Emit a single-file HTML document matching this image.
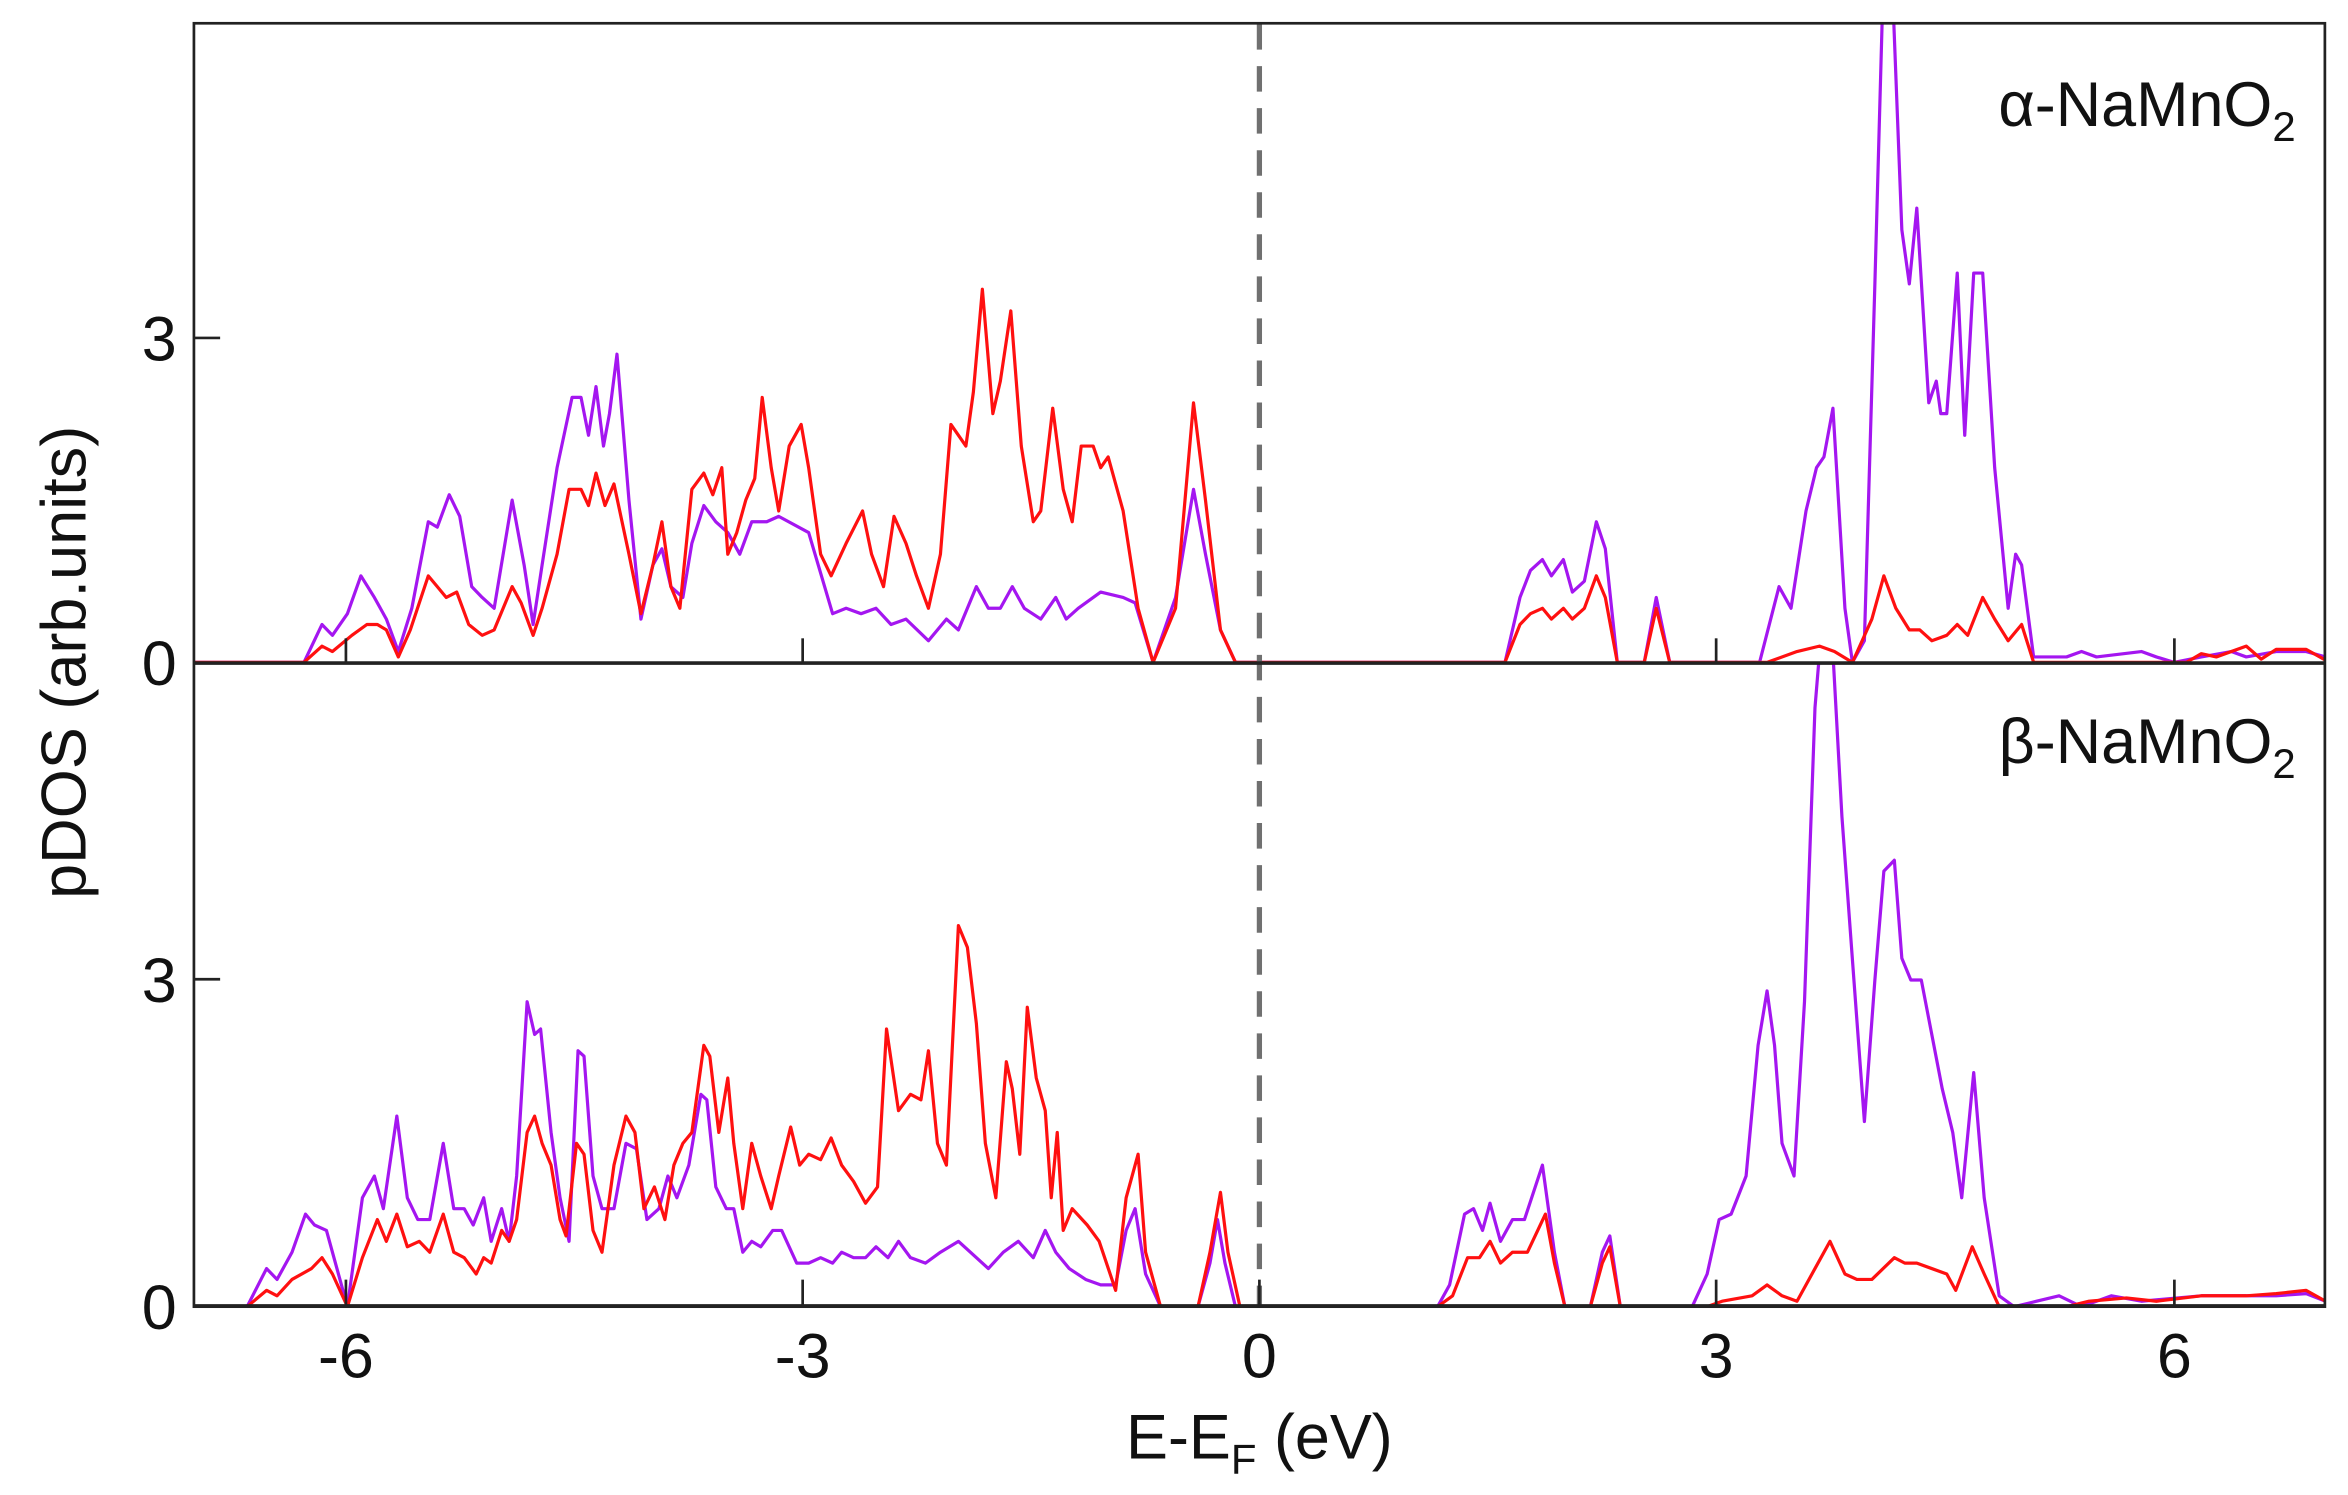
<!DOCTYPE html>
<html><head><meta charset="utf-8"><style>html,body{margin:0;padding:0;background:#fff}svg{display:block}</style></head>
<body>
<svg width="2348" height="1495" viewBox="0 0 1560.1 993.4" preserveAspectRatio="none" xmlns="http://www.w3.org/2000/svg" font-family="Liberation Sans, Arial, sans-serif">
<defs>
<clipPath id="ct"><rect x="129" y="16" width="1424" height="426"/></clipPath>
<clipPath id="cb"><rect x="129" y="442" width="1424" height="428"/></clipPath>
</defs>
<rect width="1560.1" height="993.4" fill="#fff"/>
<g transform="scale(0.995 0.998)">
<g clip-path="url(#ct)">
<g transform="translate(0,441) scale(1,-72)" fill="none" stroke-width="3.2" stroke-linejoin="round">
<polyline vector-effect="non-scaling-stroke" stroke="#a416f0" points="129,0 203,0 215,0.35 222,0.25 232,0.45 241,0.8 250,0.6 258,0.4 266,0.1 275,0.5 286,1.3 292,1.25 300,1.55 307,1.35 315,0.7 322,0.6 330,0.5 342,1.5 350,0.9 356,0.35 362,0.9 372,1.8 382,2.45 388,2.45 393,2.1 398,2.55 403,2.0 407,2.3 412,2.85 420,1.5 428,0.4 436,0.9 442,1.05 448,0.7 456,0.6 462,1.1 470,1.45 478,1.3 486,1.2 494,1.0 502,1.3 512,1.3 520,1.35 540,1.2 556,0.45 565,0.5 575,0.45 585,0.5 595,0.35 605,0.4 620,0.2 632,0.4 640,0.3 652,0.7 660,0.5 668,0.5 676,0.7 684,0.5 695,0.4 705,0.6 712,0.4 720,0.5 735,0.65 750,0.6 758,0.55 770,0 785,0.6 797,1.6 805,1.0 815,0.3 825,0 1005,0 1015,0.6 1022,0.85 1030,0.95 1036,0.8 1044,0.95 1050,0.65 1058,0.75 1066,1.3 1072,1.05 1080,0 1098,0 1106,0.6 1115,0 1175,0 1188,0.7 1196,0.5 1206,1.4 1213,1.8 1218,1.9 1224,2.35 1232,0.5 1237,0 1245,0.2 1252,3.5 1258,6.5 1263,6.5 1270,4.0 1275,3.5 1280,4.2 1288,2.4 1293,2.6 1296,2.3 1300,2.3 1307,3.6 1312,2.1 1318,3.6 1324,3.6 1332,1.8 1341,0.5 1346,1.0 1350,0.9 1358,0.05 1370,0.05 1380,0.05 1390,0.1 1400,0.05 1430,0.1 1440,0.05 1452,0 1470,0.05 1490,0.1 1500,0.05 1520,0.1 1540,0.1 1553,0.05"/>
<polyline vector-effect="non-scaling-stroke" stroke="#ff1010" points="129,0 203,0 215,0.15 222,0.1 235,0.25 245,0.35 252,0.35 258,0.3 266,0.05 274,0.3 286,0.8 292,0.7 298,0.6 305,0.65 313,0.35 322,0.25 330,0.3 342,0.7 348,0.55 356,0.25 362,0.5 372,1.0 380,1.6 388,1.6 393,1.45 398,1.75 404,1.45 410,1.65 420,1.0 428,0.45 436,0.9 442,1.3 448,0.7 454,0.5 462,1.6 470,1.75 476,1.55 482,1.8 486,1.0 492,1.2 498,1.5 504,1.7 509,2.45 515,1.8 520,1.4 527,2.0 535,2.2 540,1.8 548,1.0 555,0.8 565,1.1 576,1.4 582,1.0 590,0.7 597,1.35 605,1.1 612,0.8 620,0.5 628,1.0 635,2.2 645,2.0 650,2.5 656,3.45 663,2.3 668,2.6 675,3.25 682,2.0 690,1.3 695,1.4 703,2.35 710,1.6 716,1.3 722,2.0 730,2.0 735,1.8 740,1.9 750,1.4 760,0.5 770,0 785,0.5 797,2.4 805,1.5 815,0.3 825,0 1005,0 1015,0.35 1022,0.45 1030,0.5 1036,0.4 1044,0.5 1050,0.4 1058,0.5 1066,0.8 1072,0.6 1080,0 1098,0 1106,0.5 1115,0 1180,0 1200,0.1 1215,0.15 1225,0.1 1237,0 1250,0.4 1258,0.8 1266,0.5 1275,0.3 1282,0.3 1290,0.2 1300,0.25 1307,0.35 1314,0.25 1324,0.6 1332,0.4 1341,0.2 1350,0.35 1358,0 1460,0 1470,0.08 1480,0.05 1500,0.15 1510,0.03 1520,0.12 1540,0.12 1553,0.02"/>
</g></g>
<g clip-path="url(#cb)">
<g transform="translate(0,870) scale(1,-72.5)" fill="none" stroke-width="3.2" stroke-linejoin="round">
<polyline vector-effect="non-scaling-stroke" stroke="#a416f0" points="129,0 165,0 178,0.35 185,0.25 195,0.5 204,0.85 210,0.75 218,0.7 225,0.35 232,0 242,1.0 250,1.2 256,0.9 265,1.75 272,1.0 279,0.8 287,0.8 296,1.5 303,0.9 310,0.9 316,0.75 323,1.0 328,0.6 335,0.9 340,0.6 345,1.2 352,2.8 357,2.5 361,2.55 368,1.6 374,1.0 380,0.6 386,2.35 390,2.3 396,1.2 402,0.9 410,0.9 418,1.5 425,1.45 432,0.8 440,0.9 446,1.2 452,1.0 460,1.3 468,1.95 472,1.9 478,1.1 485,0.9 490,0.9 496,0.5 502,0.6 508,0.55 516,0.7 522,0.7 532,0.4 540,0.4 548,0.45 556,0.4 562,0.5 570,0.45 578,0.45 585,0.55 593,0.45 600,0.6 608,0.45 618,0.4 628,0.5 640,0.6 648,0.5 660,0.35 670,0.5 680,0.6 690,0.45 698,0.7 705,0.5 714,0.35 725,0.25 735,0.2 745,0.2 752,0.7 758,0.9 765,0.3 775,0 800,0 808,0.4 813,0.8 818,0.4 825,0 960,0 968,0.2 978,0.85 984,0.9 990,0.7 995,0.95 1002,0.6 1010,0.8 1018,0.8 1030,1.3 1038,0.5 1045,0 1062,0 1070,0.5 1075,0.65 1082,0 1130,0 1140,0.3 1148,0.8 1156,0.85 1166,1.2 1174,2.4 1180,2.9 1185,2.4 1190,1.5 1198,1.2 1205,2.8 1212,5.5 1218,6.5 1224,6.0 1230,4.5 1238,3.0 1245,1.7 1252,3.0 1258,4.0 1265,4.1 1270,3.2 1276,3.0 1283,3.0 1290,2.5 1297,2.0 1304,1.6 1310,1.0 1318,2.15 1325,1.0 1335,0.1 1345,0 1360,0.05 1375,0.1 1390,0 1410,0.1 1430,0.05 1470,0.1 1500,0.1 1520,0.1 1540,0.12 1553,0.05"/>
<polyline vector-effect="non-scaling-stroke" stroke="#ff1010" points="129,0 165,0 178,0.15 185,0.1 195,0.25 208,0.35 215,0.45 222,0.3 232,0 242,0.45 252,0.8 258,0.6 265,0.85 272,0.55 280,0.6 287,0.5 296,0.85 303,0.5 310,0.45 318,0.3 323,0.45 328,0.4 335,0.7 340,0.6 345,0.8 352,1.6 357,1.75 362,1.5 368,1.3 374,0.8 378,0.65 385,1.5 390,1.4 396,0.7 402,0.5 410,1.3 418,1.75 424,1.6 430,0.9 437,1.1 444,0.8 450,1.3 456,1.5 462,1.6 470,2.4 474,2.3 480,1.6 486,2.1 490,1.5 496,0.9 502,1.5 508,1.2 515,0.9 520,1.2 528,1.65 534,1.3 540,1.4 548,1.35 555,1.55 562,1.3 570,1.15 578,0.95 586,1.1 592,2.55 600,1.8 608,1.95 615,1.9 620,2.35 626,1.5 632,1.3 640,3.5 646,3.3 652,2.6 658,1.5 665,1.0 672,2.25 676,2.0 681,1.4 686,2.75 692,2.1 698,1.8 702,1.0 706,1.6 710,0.7 716,0.9 726,0.75 734,0.6 745,0.15 752,1.0 760,1.4 765,0.5 775,0 800,0 808,0.5 815,1.05 820,0.5 828,0 960,0 970,0.1 980,0.45 988,0.45 995,0.6 1002,0.4 1010,0.5 1020,0.5 1032,0.85 1038,0.4 1045,0 1062,0 1070,0.4 1075,0.55 1082,0 1140,0 1150,0.05 1170,0.1 1180,0.2 1190,0.1 1200,0.05 1212,0.35 1222,0.6 1232,0.3 1240,0.25 1250,0.25 1265,0.45 1272,0.4 1280,0.4 1290,0.35 1300,0.3 1306,0.15 1317,0.55 1325,0.3 1335,0 1380,0 1395,0.05 1420,0.08 1440,0.05 1470,0.1 1500,0.1 1520,0.12 1540,0.15 1553,0.05"/>
</g></g>
<line x1="841" y1="16" x2="841" y2="870" stroke="#707070" stroke-width="3.5" stroke-dasharray="17,11"/>
<rect x="129.5" y="15.5" width="1423" height="854.5" fill="none" stroke="#222" stroke-width="1.8"/>
<line x1="129" y1="441.5" x2="1553" y2="441.5" stroke="#222" stroke-width="2.4"/>
<line x1="129" y1="869.5" x2="1553" y2="869.5" stroke="#222" stroke-width="2.4"/>
<g stroke="#222" stroke-width="1.8">
<line x1="231" y1="441" x2="231" y2="425"/><line x1="536" y1="441" x2="536" y2="425"/><line x1="1146" y1="441" x2="1146" y2="425"/><line x1="1452" y1="441" x2="1452" y2="425"/>
<line x1="231" y1="870" x2="231" y2="852"/><line x1="536" y1="870" x2="536" y2="852"/><line x1="841" y1="870" x2="841" y2="852"/><line x1="1146" y1="870" x2="1146" y2="852"/><line x1="1452" y1="870" x2="1452" y2="852"/>
<line x1="129" y1="225" x2="147" y2="225"/><line x1="129" y1="652" x2="147" y2="652"/>
</g>
<g font-size="42" fill="#111">
<text x="118" y="240" text-anchor="end">3</text>
<text x="118" y="456" text-anchor="end">0</text>
<text x="118" y="667" text-anchor="end">3</text>
<text x="118" y="885" text-anchor="end">0</text>
<g text-anchor="middle">
<text x="231" y="917">-6</text><text x="536" y="917">-3</text><text x="841" y="917">0</text><text x="1146" y="917">3</text><text x="1452" y="917">6</text>
</g>
<text x="841" y="971" text-anchor="middle">E-E<tspan font-size="28" dy="10">F</tspan><tspan dy="-10"> (eV)</tspan></text>
<text transform="translate(57,441) rotate(-90)" text-anchor="middle">pDOS (arb.units)</text>
<text x="1533" y="84" text-anchor="end">α-NaMnO<tspan font-size="28" dy="10">2</tspan></text>
<text x="1533" y="508" text-anchor="end">β-NaMnO<tspan font-size="28" dy="10">2</tspan></text>
</g>
</g>
</svg>
</body></html>
